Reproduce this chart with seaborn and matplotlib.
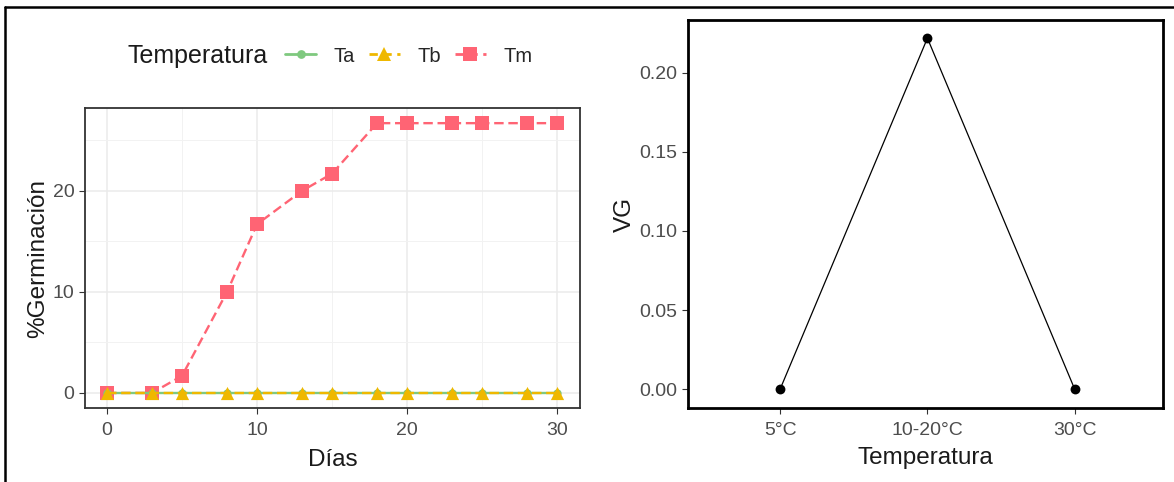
import pandas as pd
import seaborn as sns
import matplotlib.pyplot as plt
from matplotlib.lines import Line2D
from matplotlib.ticker import MultipleLocator

# Datos: germinación acumulada por día y temperatura
dias = [0, 3, 5, 8, 10, 13, 15, 18, 20, 23, 25, 28, 30]
germ_ta = [0, 0, 0, 0, 0, 0, 0, 0, 0, 0, 0, 0, 0]
germ_tb = [0, 0, 0, 0, 0, 0, 0, 0, 0, 0, 0, 0, 0]
germ_tm = [0, 0, 1.7, 10, 16.7, 20, 21.7, 26.7, 26.7, 26.7, 26.7, 26.7, 26.7]

# Velocidad de germinación por temperatura
temperaturas = ["5°C", "10-20°C", "30°C"]
vg = [0.0, 0.222, 0.0]

colores = {"Ta": "#7FC97F", "Tb": "#EFB800", "Tm": "#FF6474"}
marcadores = {"Ta": "o", "Tb": "^", "Tm": "s"}
lineas = {"Ta": "", "Tb": (4, 2), "Tm": (4, 2)}
tamanos = {"Ta": 6, "Tb": 9.5, "Tm": 9.5}

df = pd.DataFrame({
    "Dias": dias * 3,
    "Germ": germ_ta + germ_tb + germ_tm,
    "Temperatura": ["Ta"] * len(dias) + ["Tb"] * len(dias) + ["Tm"] * len(dias),
})
df_vg = pd.DataFrame({"Temperatura": temperaturas, "VG": vg})

sns.set_theme(style="white")
plt.rcParams["font.family"] = ["Liberation Sans", "DejaVu Sans"]

TITULO = 17.5
TICKS = 14

fig = plt.figure(figsize=(11.74, 4.82), dpi=100)
W, H = 1174, 482

def pos(x0, y0, x1, y1):
    return [x0 / W, 1 - y1 / H, (x1 - x0) / W, (y1 - y0) / H]

# ---- Panel izquierdo ----
ax1 = fig.add_axes(pos(85, 108, 580, 408))
ax1.set_axisbelow(True)
ax1.xaxis.set_minor_locator(MultipleLocator(5))
ax1.yaxis.set_minor_locator(MultipleLocator(5))
ax1.set_xticks([0, 10, 20, 30])
ax1.set_yticks([0, 10, 20])
ax1.grid(which="major", color="#EBEBEB", linewidth=1.1)
ax1.grid(which="minor", color="#F2F2F2", linewidth=0.7)

orden = ["Tm", "Ta", "Tb"]
for i, t in enumerate(orden):
    sub = df[df["Temperatura"] == t]
    sns.lineplot(data=sub, x="Dias", y="Germ", ax=ax1, color=colores[t],
                 linewidth=1.7, zorder=2 + i)
    if lineas[t]:
        ax1.lines[-1].set_dashes(lineas[t])
    sns.scatterplot(data=sub, x="Dias", y="Germ", ax=ax1, color=colores[t],
                    marker=marcadores[t], s=tamanos[t] ** 2, linewidth=0,
                    zorder=2 + i, legend=False)

ax1.set_xlim(-1.47, 31.53)
ax1.set_ylim(-1.49, 28.2)
ax1.set_xlabel("Días", fontsize=TITULO, color="#1A1A1A", labelpad=7)
ax1.set_ylabel("%Germinación", fontsize=TITULO, color="#1A1A1A", labelpad=3)
ax1.tick_params(axis="both", labelsize=TICKS, labelcolor="#4D4D4D", color="#333333",
                length=4, width=0.8, bottom=True, left=True, which="major")
ax1.tick_params(axis="x", pad=6)
for s in ax1.spines.values():
    s.set_color("#333333")
    s.set_linewidth(1.3)

# Leyenda superior
fig.text(128 / W, 1 - 56 / H, "Temperatura", fontsize=18, color="#1A1A1A",
         va="center", ha="left")
handles = []
for t in ["Ta", "Tb", "Tm"]:
    ls = "-" if t == "Ta" else (0, (3, 2))
    handles.append(Line2D([], [], color=colores[t], marker=marcadores[t],
                          markersize=tamanos[t] * 1.05, linewidth=2, linestyle=ls,
                          markeredgewidth=0))
fig.legend(handles, ["Ta", "Tb", "Tm"], ncol=3, frameon=False,
           loc="center left", bbox_to_anchor=(285 / W, 1 - 56 / H),
           borderpad=0, borderaxespad=0,
           fontsize=14.5, handlelength=1.55, columnspacing=0.7, handletextpad=0.85)

# ---- Panel derecho ----
ax2 = fig.add_axes(pos(688, 20, 1163, 408))
sns.lineplot(data=df_vg, x="Temperatura", y="VG", ax=ax2, color="black",
             linewidth=0.9, sort=False)
sns.scatterplot(data=df_vg, x="Temperatura", y="VG", ax=ax2, color="black",
                s=50, linewidth=0, zorder=3)
ax2.set_xlim(-0.626, 2.6)
ax2.set_ylim(-0.012, 0.2335)
ax2.set_yticks([0, 0.05, 0.10, 0.15, 0.20])
ax2.set_yticklabels(["0.00", "0.05", "0.10", "0.15", "0.20"])
ax2.set_xlabel("Temperatura", fontsize=TITULO, color="#1A1A1A", labelpad=6)
ax2.set_ylabel("VG", fontsize=TITULO, color="#1A1A1A", labelpad=3)
ax2.tick_params(axis="both", labelsize=TICKS, labelcolor="#4D4D4D", color="#333333",
                length=4, width=0.8, bottom=True, left=True)
ax2.tick_params(axis="x", pad=6)
for s in ax2.spines.values():
    s.set_color("black")
    s.set_linewidth(2)

# Marco exterior
fig.add_artist(Line2D([5 / W, 5 / W], [0, 1 - 7 / H], color="black", linewidth=1.8))
fig.add_artist(Line2D([5 / W, 1], [1 - 7 / H, 1 - 7 / H], color="black", linewidth=1.8))

fig.savefig("out.png", dpi=100)
